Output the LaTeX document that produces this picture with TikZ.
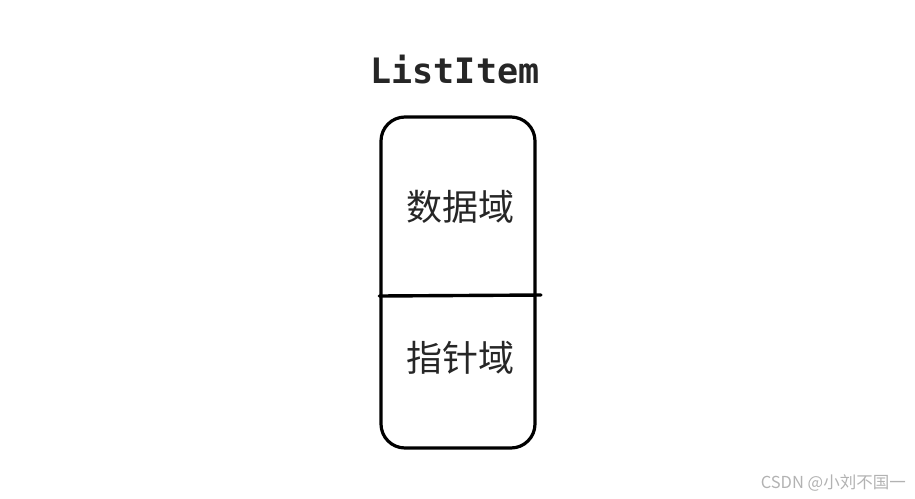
\documentclass[tikz,border=0pt]{standalone}
\usepackage{fontspec}
\setmonofont{DejaVu Sans Mono}
\newfontfamily\cjk{Noto Sans CJK SC}
\usetikzlibrary{positioning,calc}

\begin{document}
\begin{tikzpicture}[x=1pt,y=-1pt,
  every node/.style={inner sep=0pt},
  itembox/.style={draw,line width=3.2pt,rounded corners=24pt,minimum width=154pt,minimum height=331pt},
  field/.style={font=\cjk\fontsize{36}{40}\selectfont,text=black!85},
  divider/.style={line width=3.4pt,line cap=round}]
\useasboundingbox (0,0) rectangle (915,498);
\node[itembox] (item) at (458,282.5) {};
\node[font=\ttfamily\bfseries\fontsize{35}{40}\selectfont,text=black!85] (title) at (455,70) {ListItem};
\node[field] (data) at (460,207) {数据域};
\node[field] (ptr) at (460,358) {指针域};
\coordinate (d1) at (item.west |- 0,296);
\coordinate (d2) at (541,295);
\draw[divider] (d1) -- (d2);
% watermark
\node[font=\cjk\fontsize{16.5}{19}\selectfont,text=black!30,anchor=east] (mark) at (906,483) {CSDN @小刘不国一};
\end{tikzpicture}
\end{document}
